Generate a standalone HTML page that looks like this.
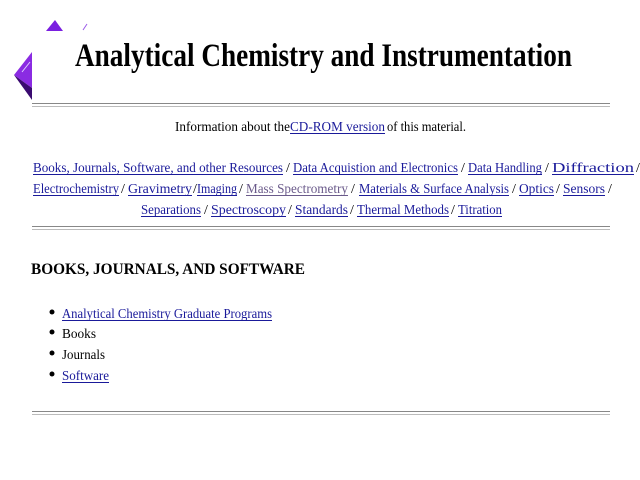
<!DOCTYPE html>
<html><head><meta charset="utf-8"><style>
html,body{margin:0;padding:0;background:#fff;width:640px;height:480px;overflow:hidden}
svg{display:block}
text{font-family:"Liberation Serif",serif}
.l{fill:#1a1a9a}
</style></head><body>
<svg width="640" height="480" viewBox="0 0 640 480">
<!-- logo -->
<polygon points="46,31 55,20 63,31" fill="#7a1fe0"/>
<line x1="83" y1="30" x2="87" y2="24" stroke="#9a5ae8" stroke-width="1"/>
<polygon points="14,75 32,52 32,88" fill="#8a2be2"/>
<polygon points="14,75 32,88 32,100" fill="#3a0a70"/>
<line x1="22" y1="72" x2="30" y2="62" stroke="#e0d0ff" stroke-width="1"/>
<!-- title -->
<text x="75" y="66" font-size="33" font-weight="bold" textLength="497" lengthAdjust="spacingAndGlyphs">Analytical Chemistry and Instrumentation</text>
<!-- hr -->
<rect x="32" y="103" width="578" height="1" fill="#888"/><rect x="32" y="106" width="578" height="1" fill="#bbb"/>
<text x="175" y="131" font-size="14" textLength="115" lengthAdjust="spacingAndGlyphs">Information about the</text>
<text x="290" y="131" font-size="14" class="l" textLength="95" lengthAdjust="spacingAndGlyphs">CD-ROM version</text>
<rect x="290" y="133" width="95" height="1" fill="#1a1a9a"/>
<text x="387" y="131" font-size="14" textLength="79" lengthAdjust="spacingAndGlyphs">of this material.</text>
<!-- links -->
<g font-size="14">
<text x="33" y="172" class="l" textLength="250" lengthAdjust="spacingAndGlyphs">Books, Journals, Software, and other Resources</text>
<text x="286" y="172">/</text>
<text x="293" y="172" class="l" textLength="165" lengthAdjust="spacingAndGlyphs">Data Acquistion and Electronics</text>
<text x="461" y="172">/</text>
<text x="468" y="172" class="l" textLength="74" lengthAdjust="spacingAndGlyphs">Data Handling</text>
<text x="545" y="172">/</text>
<text x="552" y="172" class="l" textLength="82" lengthAdjust="spacingAndGlyphs">Diffraction</text>
<text x="636" y="172">/</text>
<rect x="33" y="174" width="250" height="1" fill="#1a1a9a"/><rect x="293" y="174" width="165" height="1" fill="#1a1a9a"/><rect x="468" y="174" width="74" height="1" fill="#1a1a9a"/><rect x="552" y="174" width="82" height="1" fill="#1a1a9a"/>

<text x="33" y="193" class="l" textLength="86" lengthAdjust="spacingAndGlyphs">Electrochemistry</text>
<text x="121" y="193">/</text>
<text x="128" y="193" class="l" textLength="64" lengthAdjust="spacingAndGlyphs">Gravimetry</text>
<text x="193" y="193">/</text>
<text x="197" y="193" class="l" textLength="40" lengthAdjust="spacingAndGlyphs">Imaging</text>
<text x="239" y="193">/</text>
<text x="246" y="193" fill="#6a5a8a" textLength="102" lengthAdjust="spacingAndGlyphs">Mass Spectrometry</text>
<text x="351" y="193">/</text>
<text x="359" y="193" class="l" textLength="150" lengthAdjust="spacingAndGlyphs">Materials &amp; Surface Analysis</text>
<text x="512" y="193">/</text>
<text x="519" y="193" class="l" textLength="35" lengthAdjust="spacingAndGlyphs">Optics</text>
<text x="556" y="193">/</text>
<text x="563" y="193" class="l" textLength="42" lengthAdjust="spacingAndGlyphs">Sensors</text>
<text x="608" y="193">/</text>
<rect x="33" y="195" width="86" height="1" fill="#1a1a9a"/><rect x="128" y="195" width="64" height="1" fill="#1a1a9a"/><rect x="197" y="195" width="40" height="1" fill="#1a1a9a"/><rect x="246" y="195" width="102" height="1" fill="#6a5a8a"/><rect x="359" y="195" width="150" height="1" fill="#1a1a9a"/><rect x="519" y="195" width="35" height="1" fill="#1a1a9a"/><rect x="563" y="195" width="42" height="1" fill="#1a1a9a"/>

<text x="141" y="214" class="l" textLength="60" lengthAdjust="spacingAndGlyphs">Separations</text>
<text x="204" y="214">/</text>
<text x="211" y="214" class="l" textLength="75" lengthAdjust="spacingAndGlyphs">Spectroscopy</text>
<text x="288" y="214">/</text>
<text x="295" y="214" class="l" textLength="53" lengthAdjust="spacingAndGlyphs">Standards</text>
<text x="350" y="214">/</text>
<text x="357" y="214" class="l" textLength="92" lengthAdjust="spacingAndGlyphs">Thermal Methods</text>
<text x="451" y="214">/</text>
<text x="458" y="214" class="l" textLength="44" lengthAdjust="spacingAndGlyphs">Titration</text>
<rect x="141" y="216" width="60" height="1" fill="#1a1a9a"/><rect x="211" y="216" width="75" height="1" fill="#1a1a9a"/><rect x="295" y="216" width="53" height="1" fill="#1a1a9a"/><rect x="357" y="216" width="92" height="1" fill="#1a1a9a"/><rect x="458" y="216" width="44" height="1" fill="#1a1a9a"/>
</g>
<rect x="32" y="226" width="578" height="1" fill="#888"/><rect x="32" y="229" width="578" height="1" fill="#bbb"/>
<!-- heading -->
<text x="31" y="274" font-size="16" font-weight="bold" textLength="274" lengthAdjust="spacingAndGlyphs">BOOKS, JOURNALS, AND SOFTWARE</text>
<!-- list -->
<g font-size="14">
<circle cx="52" cy="312" r="2.5" fill="#000"/>
<text x="62" y="318" class="l" textLength="210" lengthAdjust="spacingAndGlyphs">Analytical Chemistry Graduate Programs</text>
<rect x="62" y="320" width="210" height="1" fill="#1a1a9a"/>
<circle cx="52" cy="332" r="2.5" fill="#000"/>
<text x="62" y="338" textLength="34" lengthAdjust="spacingAndGlyphs">Books</text>
<circle cx="52" cy="353" r="2.5" fill="#000"/>
<text x="62" y="359" textLength="43" lengthAdjust="spacingAndGlyphs">Journals</text>
<circle cx="52" cy="374" r="2.5" fill="#000"/>
<text x="62" y="380" class="l" textLength="47" lengthAdjust="spacingAndGlyphs">Software</text>
<rect x="62" y="382" width="47" height="1" fill="#1a1a9a"/>
</g>
<rect x="32" y="411" width="578" height="1" fill="#888"/><rect x="32" y="414" width="578" height="1" fill="#bbb"/>
</svg>
</body></html>
